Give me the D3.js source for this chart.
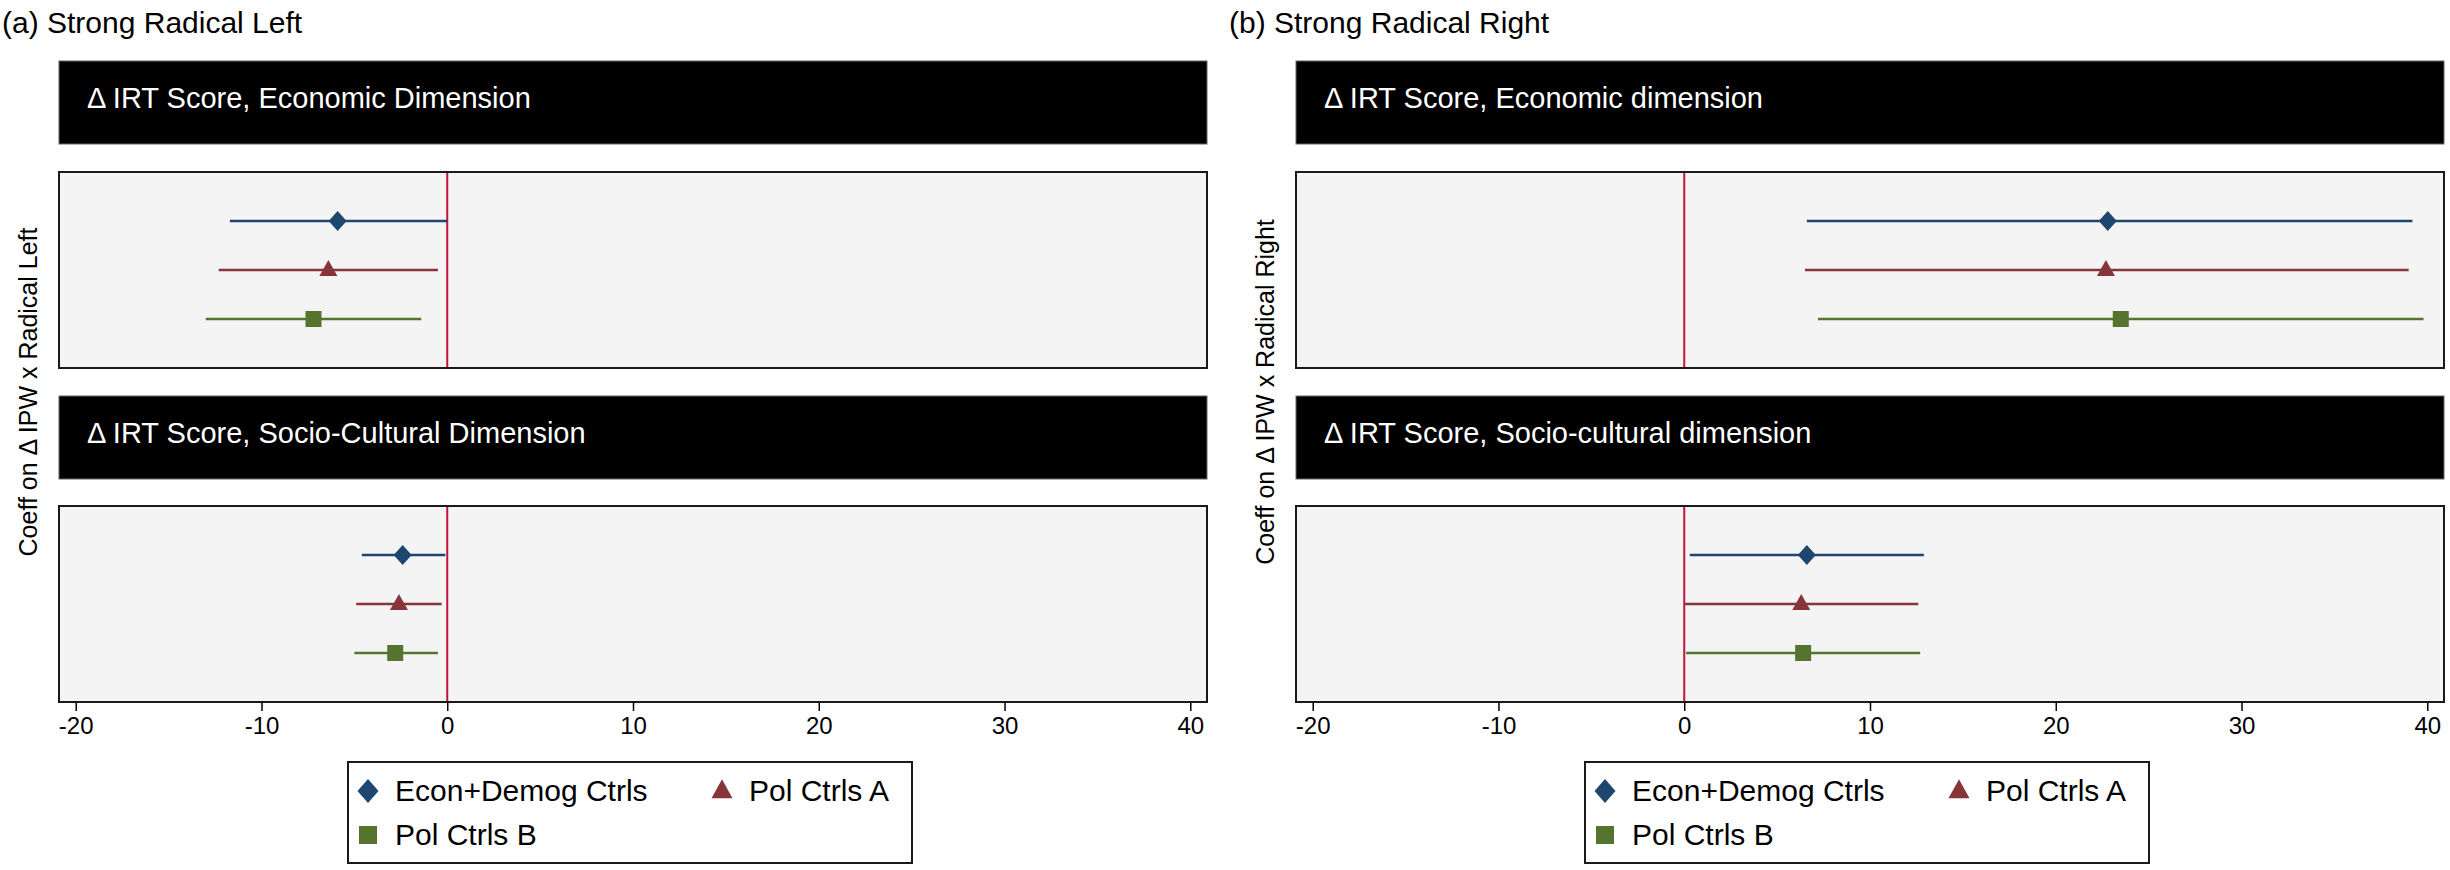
<!DOCTYPE html>
<html>
<head>
<meta charset="utf-8">
<script src="https://cdn.jsdelivr.net/npm/d3@7"></script>
<style>
  html, body { margin: 0; padding: 0; background: #ffffff; }
  svg { display: block; font-family: "Liberation Sans", Arial, Helvetica, sans-serif; }
</style>
</head>
<body>
<svg id="chart" width="2450" height="870"></svg>
<script>
// ---------------- data ----------------
const panelTitles = ["(a) Strong Radical Left", "(b) Strong Radical Right"];
const stripLabelsLeft = ["\u0394 IRT Score, Economic Dimension", "\u0394 IRT Score, Socio-Cultural Dimension"];
const stripLabelsRight = ["\u0394 IRT Score, Economic dimension", "\u0394 IRT Score, Socio-cultural dimension"];
const yAxisTitles = ["Coeff on \u0394 IPW x Radical Left", "Coeff on \u0394 IPW x Radical Right"];
const models = ["Econ+Demog Ctrls", "Pol Ctrls A", "Pol Ctrls B"];
const xTicks = [-20, -10, 0, 10, 20, 30, 40];
const xTickLabels = ["-20", "-10", "0", "10", "20", "30", "40"];

// Radical Left, economic dimension
const leftEconCoef = [-5.9, -6.4, -7.2];
const leftEconLo   = [-11.7, -12.3, -13.0];
const leftEconHi   = [0.0, -0.5, -1.4];
// Radical Left, socio-cultural dimension
const leftSocCoef = [-2.4, -2.6, -2.8];
const leftSocLo   = [-4.6, -4.9, -5.0];
const leftSocHi   = [-0.1, -0.3, -0.5];
// Radical Right, economic dimension
const rightEconCoef = [22.8, 22.7, 23.5];
const rightEconLo   = [6.6, 6.5, 7.2];
const rightEconHi   = [39.2, 39.0, 39.8];
// Radical Right, socio-cultural dimension
const rightSocCoef = [6.6, 6.3, 6.4];
const rightSocLo   = [0.3, 0.0, 0.1];
const rightSocHi   = [12.9, 12.6, 12.7];

// ---------------- build tables ----------------
function rows(coef, lo, hi) {
  return models.map((m, i) => ({ model: m, coef: coef[i], lo: lo[i], hi: hi[i] }));
}
const panels = [
  { title: panelTitles[0], ytitle: yAxisTitles[0], strips: stripLabelsLeft,
    sub: [rows(leftEconCoef, leftEconLo, leftEconHi), rows(leftSocCoef, leftSocLo, leftSocHi)] },
  { title: panelTitles[1], ytitle: yAxisTitles[1], strips: stripLabelsRight,
    sub: [rows(rightEconCoef, rightEconLo, rightEconHi), rows(rightSocCoef, rightSocLo, rightSocHi)] }
];

// ---------------- layout / style ----------------
const colors = ["#1f466f", "#873539", "#55752f"];
const refColor = "#c0143a";
const panelX = [59, 1296];
const titleX = [2, 1229];
const plotW = 1148;
const stripTop = [61, 396], stripH = 83;
const plotTop = [172, 506], plotH = 196;
const xDomain = [-20.9, 40.9];

function diamond(w, h) {
  return { draw(ctx) { ctx.moveTo(0, -h/2); ctx.lineTo(w/2, 0); ctx.lineTo(0, h/2); ctx.lineTo(-w/2, 0); ctx.closePath(); } };
}
function triangle(w, h) {
  return { draw(ctx) { ctx.moveTo(0, -h*0.62); ctx.lineTo(w/2, h*0.38); ctx.lineTo(-w/2, h*0.38); ctx.closePath(); } };
}
function square(s) {
  return { draw(ctx) { ctx.rect(-s/2, -s/2, s, s); } };
}
const plotSymbols = [diamond(18, 20), triangle(18, 16), square(16)];
const legendSymbols = [diamond(21, 24), triangle(21, 19), square(18)];

const svg = d3.select("#chart");
const font = "\"Liberation Sans\", Arial, Helvetica, sans-serif";

panels.forEach((p, pi) => {
  const g = svg.append("g");
  const x0 = panelX[pi];
  const x = d3.scaleLinear().domain(xDomain).range([x0, x0 + plotW]);

  // panel title
  g.append("text").attr("x", titleX[pi]).attr("y", 33)
    .attr("font-size", 30).attr("fill", "#000").text(p.title);

  // y axis title
  g.append("text")
    .attr("transform", `translate(${x0 - 22},392) rotate(-90)`)
    .attr("text-anchor", "middle").attr("font-size", 25).attr("fill", "#000")
    .text(p.ytitle);

  p.sub.forEach((data, si) => {
    // strip
    g.append("rect").attr("x", x0).attr("y", stripTop[si]).attr("width", plotW).attr("height", stripH)
      .attr("fill", "#000").attr("stroke", "#666").attr("stroke-width", 1);
    g.append("text").attr("x", x0 + 28).attr("y", stripTop[si] + 47)
      .attr("font-size", 29).attr("fill", "#fff").text(p.strips[si]);

    const top = plotTop[si];
    const y = d3.scalePoint().domain(models).range([top, top + plotH]).padding(1);

    // plot region
    g.append("rect").attr("x", x0).attr("y", top).attr("width", plotW).attr("height", plotH)
      .attr("fill", "#f4f4f4").attr("stroke", "#1a1a1a").attr("stroke-width", 2);

    // reference line at 0
    g.append("line").attr("x1", x(0)).attr("x2", x(0)).attr("y1", top + 1).attr("y2", top + plotH - 1)
      .attr("stroke", refColor).attr("stroke-width", 2);

    // CIs
    g.selectAll(null).data(data).enter().append("line")
      .attr("x1", d => x(d.lo)).attr("x2", d => x(d.hi))
      .attr("y1", d => y(d.model)).attr("y2", d => y(d.model))
      .attr("stroke", (d, i) => colors[i]).attr("stroke-width", 2.4);

    // point estimates
    g.selectAll(null).data(data).enter().append("path")
      .attr("d", (d, i) => d3.symbol().type(plotSymbols[i])())
      .attr("transform", d => `translate(${x(d.coef)},${y(d.model)})`)
      .attr("fill", (d, i) => colors[i]);

    // x axis only under bottom plot
    if (si === 1) {
      const axis = d3.axisBottom(x).tickValues(xTicks).tickSize(9).tickPadding(6)
        .tickFormat((d, i) => xTickLabels[i]);
      const ag = g.append("g").attr("transform", `translate(0,${top + plotH})`).call(axis);
      ag.select(".domain").remove();
      ag.selectAll(".tick line").attr("stroke", "#000").attr("stroke-width", 1.5);
      ag.selectAll(".tick text").attr("font-size", 24).attr("font-family", font).attr("fill", "#000").attr("dy", "0.72em");
    }
  });

  // legend
  const lx = x0 + 289, ly = 762;
  g.append("rect").attr("x", lx).attr("y", ly).attr("width", 564).attr("height", 101)
    .attr("fill", "#fff").attr("stroke", "#1a1a1a").attr("stroke-width", 2);
  const legPos = [{ dx: 20, dy: 29 }, { dx: 374, dy: 29 }, { dx: 20, dy: 73 }];
  models.forEach((m, i) => {
    const lp = legPos[i];
    g.append("path").attr("d", d3.symbol().type(legendSymbols[i])())
      .attr("transform", `translate(${lx + lp.dx},${ly + lp.dy})`).attr("fill", colors[i]);
    g.append("text").attr("x", lx + lp.dx + 27).attr("y", ly + lp.dy + 10)
      .attr("font-size", 30).attr("fill", "#000").text(m);
  });
});
</script>
</body>
</html>
